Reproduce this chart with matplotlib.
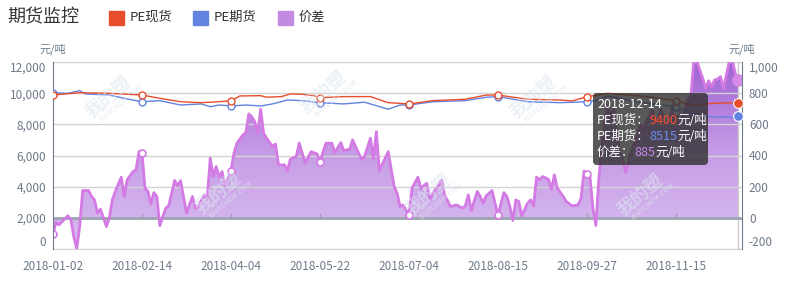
import numpy as np
import matplotlib
matplotlib.use('Agg')
import matplotlib.pyplot as plt
from matplotlib.patches import FancyBboxPatch, Rectangle, Polygon
from matplotlib.colors import LinearSegmentedColormap
from matplotlib.transforms import IdentityTransform

plt.rcParams['font.family'] = ['Noto Sans CJK SC', 'DejaVu Sans']

# x axis = trading day index counted from 2018-01-02
date_labels = ['2018-01-02', '2018-02-14', '2018-04-04', '2018-05-22',
               '2018-07-04', '2018-08-15', '2018-09-27', '2018-11-15']
label_days = [0, 30, 60, 90, 120, 150, 180, 210]
last_day = 231

# PE现货 (yuan/t, left axis)
spot_days = [0, 9, 19, 30, 36, 43, 50, 56, 60, 63, 70, 72, 77, 80, 84, 88, 90,
             98, 107, 113, 120, 128, 139, 146, 150, 160, 171, 175, 180, 184,
             187, 200, 210, 215, 223, 231]
spot = [9880, 10030, 9990, 9880, 9670, 9450, 9390, 9450, 9520, 9820, 9840,
        9740, 9780, 9950, 9930, 9840, 9710, 9780, 9780, 9390, 9310, 9520,
        9610, 9880, 9880, 9610, 9560, 9500, 9780, 9880, 9990, 9780, 9520,
        9240, 9350, 9400]

# PE期货 (yuan/t, left axis)
fut_days = [0, 5, 9, 11, 19, 24, 30, 36, 43, 50, 53, 56, 60, 65, 70, 74, 79,
            84, 90, 98, 105, 113, 117, 120, 128, 139, 146, 150, 160, 171, 180,
            184, 187, 200, 210, 215, 223, 227, 230, 231]
fut = [10030, 9990, 10160, 9950, 9880, 9670, 9450, 9520, 9240, 9310, 9130,
       9240, 9180, 9240, 9180, 9310, 9560, 9520, 9390, 9310, 9420, 8970, 9240,
       9240, 9450, 9520, 9740, 9780, 9450, 9390, 9450, 9560, 9820, 9350, 9130,
       8710, 8450, 8490, 8390, 8515]

# 价差 (yuan/t, right axis)
spread_days = [0, 1, 2, 5, 6, 7, 8, 9, 10, 12, 13, 14, 15, 16, 18, 19, 20, 21,
               23, 24, 25, 27, 28, 29, 30, 31, 32, 33, 34, 35, 36, 38, 39, 41,
               42, 43, 45, 47, 48, 49, 51, 52, 53, 54, 55, 56, 57, 58, 59, 60,
               61, 62, 64, 65, 66, 67, 68, 69, 70, 71, 72, 74, 75, 76, 78, 79,
               80, 82, 83, 84, 85, 87, 89, 90, 92, 94, 95, 97, 98, 100, 101,
               102, 104, 105, 107, 108, 109, 110, 113, 115, 116, 117, 118, 119,
               120, 121, 123, 124, 126, 127, 128, 130, 131, 132, 134, 136, 138,
               139, 140, 141, 143, 144, 145, 146, 148, 149, 150, 152, 153, 154,
               155, 156, 157, 158, 160, 161, 162, 163, 164, 165, 167, 168, 169,
               170, 172, 173, 175, 177, 178, 179, 180, 181, 182, 183, 184, 185,
               186, 187, 188, 189, 190, 191, 192, 193, 194, 195, 196, 197, 198,
               199, 200, 201, 202, 203, 204, 205, 206, 207, 208, 209, 210, 211,
               212, 213, 214, 215, 216, 217, 218, 219, 220, 221, 222, 223, 224,
               225, 226, 227, 228, 229, 230, 231]
spread = [-105, -30, -45, 13, -10, -120, -200, -55, 175, 175, 137, 115, 30, 56,
          -56, 0, 115, 169, 261, 137, 244, 297, 308, 425, 419, 190, 169, 90,
          162, 137, -51, 62, 77, 240, 205, 239, 30, 137, 62, 77, 147, 126, 383,
          265, 329, 261, 297, 205, 254, 303, 415, 479, 532, 547, 667, 649, 617,
          543, 697, 543, 511, 457, 474, 340, 340, 303, 376, 393, 480, 415, 351,
          425, 410, 361, 479, 479, 419, 483, 432, 440, 500, 457, 376, 393, 511,
          376, 553, 303, 425, 201, 158, 72, 83, 51, 19, 190, 261, 190, 222,
          120, 158, 212, 244, 147, 72, 83, 62, 77, 147, 47, 169, 137, 94, 141,
          175, 94, 19, 162, 137, 72, -17, 115, 105, 13, 94, 115, 77, 261, 244,
          265, 248, 184, 276, 190, 137, 105, 77, 83, 126, 300, 282, 265, 62,
          -49, 254, 450, 620, 720, 650, 700, 560, 420, 380, 293, 360, 430, 480,
          530, 600, 560, 620, 650, 690, 600, 640, 700, 620, 580, 650, 720, 680,
          600, 640, 700, 760, 780, 1010, 1010, 950, 895, 831, 880, 842, 885,
          890, 906, 831, 917, 1005, 1010, 927, 885]

RED = '#e84d2c'
BLUE = '#6283e0'
PURPLE = '#c28ae0'
SPREAD_LINE = '#d47ae4'
AXIS_TXT = '#6e7a8a'

W, H = 786, 281
fig = plt.figure(figsize=(W / 100, H / 100), dpi=100)
ax = fig.add_axes([53 / W, 32 / H, 689 / W, 187 / H])   # spread, right scale
ax2 = ax.twinx()                                         # prices, left scale

xmax = last_day + 1.25
ax.set_xlim(0, xmax)
ax.set_ylim(-200, 1000)
ax2.set_ylim(0, 12000)

# gradient area for the spread
verts = [(spread_days[0], 0)] + list(zip(spread_days, spread)) + [(spread_days[-1], 0)]
clip = Polygon(verts, closed=True, facecolor='none', edgecolor='none')
ax.add_patch(clip)
cmap = LinearSegmentedColormap.from_list('sp', ['#a163d4', '#c79ee6', '#d9bdf0'])
grad = np.linspace(0, 1, 256).reshape(-1, 1)
im = ax.imshow(grad, cmap=cmap, aspect='auto', extent=(0, xmax, -200, 1000),
               origin='upper', zorder=1, interpolation='bilinear')
im.set_clip_path(clip)
ax.set_xlim(0, xmax)
ax.set_ylim(-200, 1000)

ax.set_yticks(range(-200, 1001, 200))
ax.grid(axis='y', color='#d3d3d3', lw=1, zorder=0)
ax.axhline(0, color='#9ca4b1', lw=2, zorder=2.5)
ax.vlines(label_days[1:], 0, 32, color='#9ca4b1', lw=1, zorder=2.5)
ax.axvline(last_day, color='#cccccc', lw=1, zorder=2.4)

mark_sp = [i for i, d in enumerate(spread_days) if d in label_days]
ax.plot(spread_days, spread, color=SPREAD_LINE, lw=2, zorder=3,
        marker='o', ms=5, mfc='white', mec=SPREAD_LINE, mew=1.2,
        markevery=mark_sp, solid_joinstyle='round')
ax.plot(spread_days[-1], spread[-1], 'o', ms=8, color='#d98ae8', zorder=4)

mark_r = [i for i, d in enumerate(spot_days) if d in label_days]
mark_b = [i for i, d in enumerate(fut_days) if d in label_days]
ax2.plot(fut_days, fut, color=BLUE, lw=1, marker='o', ms=5, mfc='white',
         mec=BLUE, mew=1, markevery=mark_b, zorder=3)
ax2.plot(spot_days, spot, color=RED, lw=1, marker='o', ms=5, mfc='white',
         mec=RED, mew=1, markevery=mark_r, zorder=3)
ax2.plot(fut_days[-1], fut[-1], 'o', ms=7, color=BLUE, mec='white', mew=0.8, zorder=4)
ax2.plot(spot_days[-1], spot[-1], 'o', ms=7, color=RED, mec='white', mew=0.8, zorder=4)

# axes styling
ax.yaxis.tick_right()
ax2.yaxis.tick_left()
ax.set_xticks(label_days, date_labels)
ax.tick_params(axis='x', length=0, pad=8, labelsize=8.5, labelcolor=AXIS_TXT)
ax.tick_params(axis='y', length=0, pad=5, labelsize=8.5, labelcolor=AXIS_TXT)
ax2.set_yticks(range(0, 12001, 2000))
ax2.set_yticklabels([f'{v:,}' for v in range(0, 12001, 2000)])
ax.set_yticklabels([f'{v:,}' for v in range(-200, 1001, 200)])
ax2.tick_params(axis='y', length=0, pad=5, labelsize=8.5, labelcolor=AXIS_TXT)
for a in (ax, ax2):
    labs = a.get_yticklabels()
    labs[0].set_va('bottom')
    labs[-1].set_va('top')

for s in ('top', 'bottom'):
    ax.spines[s].set_color('#d3d3d3')
    ax2.spines[s].set_visible(False)
ax.spines['left'].set_visible(False)
ax.spines['right'].set_visible(False)
ax2.spines['left'].set_color('#6e7b8b')
ax2.spines['right'].set_color('#6e7b8b')

fig.text(53 / W, 1 - 49 / H, '元/吨', ha='center', va='center', fontsize=8, color=AXIS_TXT)
fig.text(742 / W, 1 - 49 / H, '元/吨', ha='center', va='center', fontsize=8, color=AXIS_TXT)

# faint site watermarks
for wx, wy in [(108, 97), (323, 92), (533, 97), (218, 193), (428, 195), (640, 195)]:
    fig.text(wx, H - wy, '我的塑', transform=IdentityTransform(), rotation=40,
             ha='center', va='center', fontsize=13, fontweight='bold',
             style='italic', color='#dce6f0', alpha=0.55, zorder=5)
    fig.text(wx + 12, H - wy - 6, 'ISUYCHEM.COM', transform=IdentityTransform(),
             rotation=40, ha='center', va='center', fontsize=5, fontweight='bold',
             color='#dce6f0', alpha=0.55, zorder=5)

# title + legend
fig.text(7 / W, 1 - 17 / H, '期货监控', ha='left', va='center', fontsize=13, color='#333333')
for x0, col, name in [(109, RED, 'PE现货'), (193, BLUE, 'PE期货'), (278, PURPLE, '价差')]:
    fig.add_artist(Rectangle((x0 / W, 1 - 25 / H), 15 / W, 14 / H, color=col,
                             transform=fig.transFigure))
    fig.text((x0 + 21) / W, 1 - 17.5 / H, name, ha='left', va='center',
             fontsize=9.5, color='#333333')

# tooltip
tip = FancyBboxPatch((593, H - 165), 115, 72, boxstyle='round,pad=0,rounding_size=4',
                     facecolor=(0.2, 0.2, 0.2, 0.82), edgecolor='none',
                     transform=IdentityTransform(), zorder=10)
fig.add_artist(tip)
renderer = fig.canvas.get_renderer()
tip_lines = [
    [('2018-12-14', 'white')],
    [('PE现货：', 'white'), (f'{spot[-1]}', '#ff4d2e'), ('元/吨', 'white')],
    [('PE期货：', 'white'), (f'{fut[-1]}', '#6a8cf0'), ('元/吨', 'white')],
    [('价差：', 'white'), (f'{spread[-1]}', '#c68af0'), ('元/吨', 'white')],
]
for yc, parts in zip([105, 120.5, 136.5, 152.5], tip_lines):
    x = 597
    for s, c in parts:
        t = fig.text(x, H - yc, s, color=c, fontsize=9, va='center', ha='left',
                     transform=IdentityTransform(), zorder=11)
        x += t.get_window_extent(renderer).width

fig.savefig('out.png', dpi=100)
